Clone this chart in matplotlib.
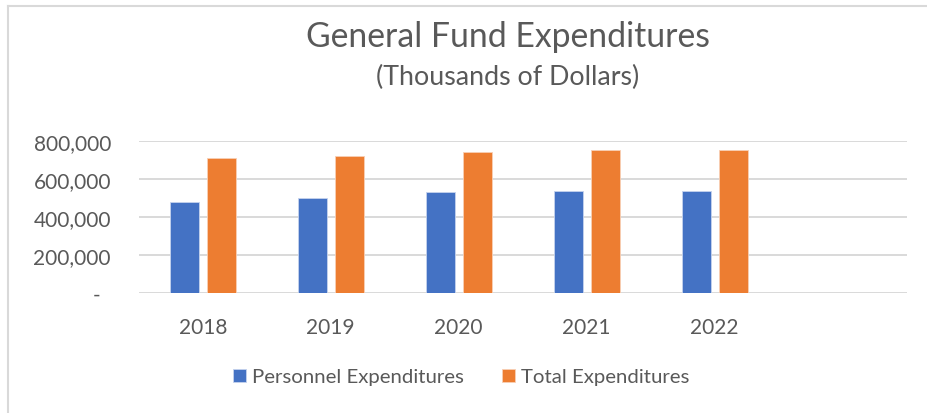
import matplotlib.pyplot as plt
import numpy as np
from matplotlib.lines import Line2D
from matplotlib.ticker import FuncFormatter

years = ['2018', '2019', '2020', '2021', '2022', '']
personnel = [481000, 501000, 531000, 539000, 536000, np.nan]
total = [711000, 721000, 741000, 751000, 753000, np.nan]

plt.rcParams['font.family'] = ['Lato', 'DejaVu Sans']
grau = '#595959'

fig = plt.figure(figsize=(9.28, 4.14), dpi=100)
ax = fig.add_axes([0.1495, 0.289, 0.8275, 0.368])

x = np.arange(len(years))
w = 0.226
ax.bar(x - 0.144, personnel, w, color='#4472C4', edgecolor='#c5d3ee', linewidth=0.6,
       label='Personnel Expenditures', zorder=3)
ax.bar(x + 0.144, total, w, color='#ED7D31', edgecolor='#f8cfb5', linewidth=0.6,
       label='Total Expenditures', zorder=3)

ax.set_xlim(-0.5, len(years) - 0.5)
ax.set_ylim(0, 800000)
ax.set_yticks([0, 200000, 400000, 600000, 800000])
ax.yaxis.set_major_formatter(FuncFormatter(lambda v, p: '-  ' if v == 0 else f'{int(v):,}'))
ax.set_xticks(x)
ax.set_xticklabels(years)

ax.yaxis.grid(True, color='#D9D9D9', linewidth=1.4, zorder=0)
for s in ax.spines.values():
    s.set_visible(False)
ax.tick_params(axis='both', length=0, labelsize=15, labelcolor=grau)
ax.tick_params(axis='y', pad=20)
ax.tick_params(axis='x', pad=17)

fig.text(0.547, 0.91, 'General Fund Expenditures', ha='center', va='center',
         fontsize=24.3, color=grau)
fig.text(0.547, 0.812, '(Thousands of Dollars)', ha='center', va='center',
         fontsize=19.3, color=grau)

fig.legend(loc='center', bbox_to_anchor=(0.497, 0.087), ncol=2, frameon=False,
           fontsize=14.7, labelcolor=grau, handlelength=0.6, handleheight=0.6,
           handletextpad=0.3, columnspacing=1.9)

# Rahmen wie in Excel
fig.add_artist(Line2D([0.009, 0.009], [0, 0.983], color='#D9D9D9', linewidth=1.5))
fig.add_artist(Line2D([0.009, 1.0], [0.983, 0.983], color='#D9D9D9', linewidth=1.5))

fig.savefig('out.png', dpi=100, facecolor='white')
